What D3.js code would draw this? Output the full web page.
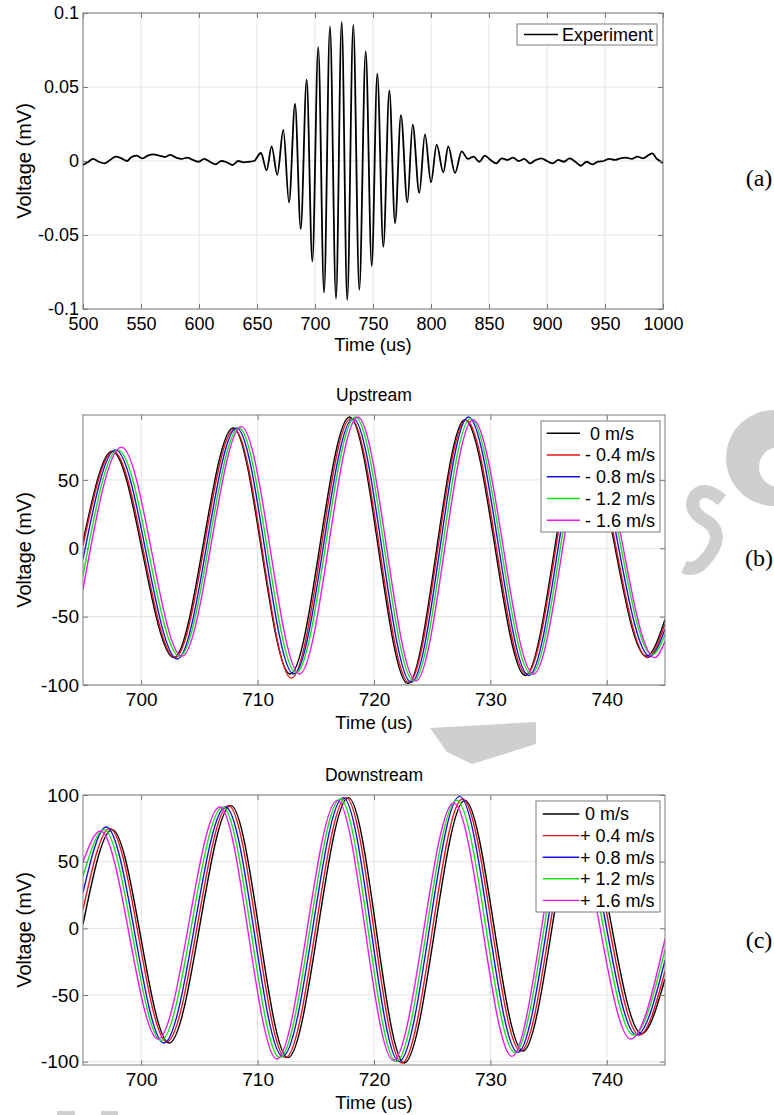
<!DOCTYPE html>
<html>
<head>
<meta charset="utf-8">
<script src="https://cdnjs.cloudflare.com/ajax/libs/d3/7.8.5/d3.min.js"></script>
<style>
  body { margin: 0; background: #fff; }
  svg text { font-family: "Liberation Sans", Arial, sans-serif; fill: #000; }
  svg text.tag { font-family: "Liberation Serif", "Times New Roman", serif; }
</style>
</head>
<body>
<div id="chart"></div>
<script>
// ---- (a) experiment trace (time in us, voltage in mV)
const expTime = [
  500, 503.9, 508.8, 513.6, 518.5, 523.4, 528.2, 533.1, 538, 541.2, 546.1, 551, 555.8, 560.7,
  565.6, 570.5, 575.3, 580.2, 585.1, 589.9, 594.8, 599.7, 604.5, 609.4, 614.3, 619.2, 624,
  628.9, 633.8, 638.6, 643.5, 647.4,
  653.4, 658.3, 662.6, 667.5, 672.7, 677.6, 682.8, 687.7, 692.8, 697.7, 702.8, 707.8, 712.9,
  718.1, 723.0, 727.8, 733.0, 738.2, 743.7, 748.9, 753.7, 758.9, 764.1, 769.0, 774.1, 779.6,
  784.2, 789.9, 794.8, 800.0, 804.9, 810.6, 814.9, 820.7, 826.4,
  831.8, 836.7, 841.6, 846.4, 851.3, 856.2, 861, 865.9, 870.8, 875.6, 880.5, 885.4, 890.3,
  895.1, 900, 904.9, 909.7, 914.6, 919.5, 924.4, 929.2, 934.1, 939, 943.8, 948.7, 953.6,
  958.4, 963.3, 968.2, 973.1, 977.9, 982.8, 987.7, 990.9, 994.2, 997.4, 1000
];
const expVolt = [
  -0.0027, -0.0009, 0.0014, -0.0005, -0.0016, 0.0007, 0.0029, 0.0018, 0.0000, 0.0023, 0.0036,
  0.0018, 0.0036, 0.0045, 0.0036, 0.0027, 0.0041, 0.0023, 0.0014, 0.0023, 0.0007, -0.0005,
  0.0014, -0.0005, -0.0023, 0.0000, -0.0009, -0.0027, 0.0000, -0.0009, -0.0005, 0.0000,
  0.0054, -0.0063, 0.0099, -0.0093, 0.021, -0.028, 0.0385, -0.046, 0.055, -0.068, 0.077,
  -0.089, 0.091, -0.093, 0.094, -0.094, 0.092, -0.087, 0.074, -0.071, 0.059, -0.058, 0.0475,
  -0.042, 0.031, -0.028, 0.0245, -0.0216, 0.018, -0.0144, 0.011, -0.0077, 0.0099, -0.0081, 0.0065,
  0.0014, 0.0029, -0.0005, 0.0036, 0.0007, -0.0016, 0.0018, 0.0007, 0.0023, 0.0000, 0.0014,
  -0.0016, 0.0007, 0.0018, 0.0000, -0.0016, 0.0007, -0.0005, 0.0018, -0.0005, -0.0032,
  -0.0005, -0.0023, -0.0005, 0.0000, 0.0014, 0.0007, 0.0018, 0.0023, 0.0014, 0.0029, 0.0018,
  0.0041, 0.0052, 0.0018, 0.0000, -0.0016
];
const expXTicks = [500, 550, 600, 650, 700, 750, 800, 850, 900, 950, 1000];
const expYTicks = [-0.1, -0.05, 0, 0.05, 0.1];
const expYLabels = ["-0.1", "-0.05", "0", "0.05", "0.1"];

// ---- (b) upstream, one row per flow speed (peaks and troughs)
const upTime = [
  [695, 697.5, 702.8, 707.9, 712.8, 717.9, 722.9, 727.8, 733.0, 737.9, 743.4, 745],
  [695, 697.6, 702.9, 708.0, 712.9, 718.0, 723.0, 727.9, 733.1, 738.0, 743.5, 745],
  [695, 697.8, 703.1, 708.2, 713.1, 718.2, 723.2, 728.1, 733.3, 738.2, 743.7, 745],
  [695, 698.0, 703.3, 708.4, 713.3, 718.4, 723.4, 728.3, 733.5, 738.4, 743.9, 745],
  [695, 698.3, 703.5, 708.6, 713.6, 718.6, 723.6, 728.5, 733.7, 738.6, 744.1, 745]
];
const upVolt = [
  [5, 71, -80, 88, -92, 96, -99, 94, -93, 85, -79, -52],
  [2, 71, -80, 87, -95, 95, -98, 94, -92, 85, -80, -55],
  [-8, 72, -81, 88, -92, 95, -98, 96, -93, 86, -79, -59],
  [-20, 72, -79, 88, -91, 96, -97, 95, -92, 86, -78, -63],
  [-30, 74, -79, 89, -92, 96, -97, 94, -92, 86, -80, -68]
];
const upLabels = ["\u00a00 m/s", "- 0.4 m/s", "- 0.8 m/s", "- 1.2 m/s", "- 1.6 m/s"];

// ---- (c) downstream
const downTime = [
  [695, 697.5, 702.4, 707.7, 712.6, 717.8, 722.6, 727.8, 732.8, 737.7, 743.0, 745],
  [695, 697.3, 702.2, 707.5, 712.4, 717.6, 722.4, 727.6, 732.6, 737.5, 742.8, 745],
  [695, 697.0, 701.95, 707.25, 712.15, 717.35, 722.15, 727.35, 732.35, 737.25, 742.55, 745],
  [695, 696.8, 701.7, 707.0, 711.9, 717.1, 721.9, 727.1, 732.1, 737.0, 742.3, 745],
  [695, 696.5, 701.45, 706.75, 711.65, 716.85, 721.65, 726.85, 731.85, 736.75, 742.05, 745]
];
const downVolt = [
  [3, 74, -86, 92, -97, 98, -101, 96, -92, 88, -79, -38],
  [14, 75, -85, 92, -97, 98, -101, 97, -92, 88, -80, -32],
  [27, 76, -86, 91, -96, 98, -100, 99, -93, 88, -80, -24],
  [39, 74, -84, 91, -97, 97, -100, 96, -93, 87, -80, -16],
  [50, 73, -83, 91, -98, 96, -99, 94, -96, 86, -83, -8]
];
const downLabels = ["\u00a00 m/s", "+ 0.4 m/s", "+ 0.8 m/s", "+ 1.2 m/s", "+ 1.6 m/s"];

const zoomXTicks = [700, 710, 720, 730, 740];
const upYTicks = [-100, -50, 0, 50];
const downYTicks = [-100, -50, 0, 50, 100];

const seriesColors = ["#000000", "#e81414", "#1414e0", "#14e614", "#f514f5"];

const svg = d3.select("#chart").append("svg")
  .attr("width", 774)
  .attr("height", 1115);

//faint grey watermark letters sitting behind the figure
const mark = svg.append("g").attr("fill", "#cfcfcf");
mark.append("circle").attr("cx", 774).attr("cy", 458).attr("r", 48);
mark.append("circle").attr("cx", 779).attr("cy", 467).attr("r", 20).attr("fill", "#fff");
mark.append("path")
  .attr("fill", "none").attr("stroke", "#cfcfcf").attr("stroke-width", 13)
  .attr("d", "M722,500 Q702,484 694,498 Q688,512 708,522 Q726,536 705,560 Q695,572 684,567");
mark.append("path").attr("d", "M430,728 L536,722 L536,744 L472,764 L447,752 Z");
mark.append("rect").attr("x", 57).attr("y", 1111).attr("width", 18).attr("height", 4);
mark.append("rect").attr("x", 101).attr("y", 1111).attr("width", 17).attr("height", 4);

class Panel {

  constructor(opts) {
    //copy everything we were given
    Object.assign(this, opts);
    this.draw();
  }

  draw() {
    const b = this.box;
    const g = svg.append("g");
    const clipId = "clip-" + this.tag.replace(/\W/g, "");

    this.x = d3.scaleLinear().domain(this.xDomain).range([b.left, b.right]);
    this.y = d3.scaleLinear().domain(this.yDomain).range([b.bottom, b.top]);
    const x = this.x, y = this.y;

    g.append("clipPath").attr("id", clipId)
      .append("rect")
      .attr("x", b.left).attr("y", b.top)
      .attr("width", b.right - b.left).attr("height", b.bottom - b.top);

    //white plot area, then the light grid behind the data
    g.append("rect")
      .attr("x", b.left).attr("y", b.top)
      .attr("width", b.right - b.left).attr("height", b.bottom - b.top)
      .attr("fill", "#fff");
    const grid = g.append("g").attr("stroke", "#e4e4e4").attr("stroke-width", 1);
    grid.selectAll(".gx").data(this.xTicks).join("line")
      .attr("x1", d => x(d)).attr("x2", d => x(d))
      .attr("y1", b.top).attr("y2", b.bottom);
    grid.selectAll(".gy").data(this.yTicks).join("line")
      .attr("x1", b.left).attr("x2", b.right)
      .attr("y1", d => y(d)).attr("y2", d => y(d));

    //the traces
    const line = d3.line()
      .x(d => x(d[0]))
      .y(d => y(d[1]))
      .curve(d3.curveMonotoneX);

    g.append("g").attr("clip-path", "url(#" + clipId + ")")
      .selectAll("path").data(this.series).join("path")
      .attr("fill", "none")
      .attr("stroke", d => d.color)
      .attr("stroke-width", this.lineWidth)
      .attr("stroke-linejoin", "round")
      .attr("d", d => line(d.t.map((t, i) => [t, d.v[i]])));

    //axes: ticks point inwards on all four sides
    const yLabels = this.yLabels;
    const yTicks = this.yTicks;
    const fs = this.tickFont;
    const tidy = sel => sel.attr("font-size", fs).attr("font-family", null).attr("color", "#7a7a7a")
      .call(s => s.select(".domain").remove());

    g.append("g").attr("transform", "translate(0," + b.bottom + ")")
      .call(d3.axisBottom(x).tickValues(this.xTicks).tickSizeInner(-5).tickSizeOuter(0).tickPadding(8)
        .tickFormat(d3.format("d")))
      .call(tidy);
    g.append("g").attr("transform", "translate(" + b.left + ",0)")
      .call(d3.axisLeft(y).tickValues(yTicks).tickSizeInner(-5).tickSizeOuter(0).tickPadding(4)
        .tickFormat(d => yLabels[yTicks.indexOf(d)]))
      .call(tidy);
    g.append("g").attr("transform", "translate(0," + b.top + ")")
      .call(d3.axisTop(x).tickValues(this.xTicks).tickSizeInner(-5).tickSizeOuter(0).tickFormat(""))
      .call(tidy);
    g.append("g").attr("transform", "translate(" + b.right + ",0)")
      .call(d3.axisRight(y).tickValues(yTicks).tickSizeInner(-5).tickSizeOuter(0).tickFormat(""))
      .call(tidy);

    g.append("rect")
      .attr("x", b.left).attr("y", b.top)
      .attr("width", b.right - b.left).attr("height", b.bottom - b.top)
      .attr("fill", "none").attr("stroke", "#7a7a7a").attr("stroke-width", 1);

    //labels
    g.append("text")
      .attr("x", (b.left + b.right) / 2).attr("y", b.bottom + this.xLabelGap)
      .attr("text-anchor", "middle").attr("font-size", 18.5)
      .text("Time (us)");
    g.append("text")
      .attr("transform", "translate(31," + (b.top + b.bottom) / 2 + ") rotate(-90)")
      .attr("text-anchor", "middle").attr("font-size", 20)
      .text("Voltage (mV)");
    if (this.title) {
      g.append("text")
        .attr("x", (b.left + b.right) / 2).attr("y", b.top - 14)
        .attr("text-anchor", "middle").attr("font-size", 17.5)
        .text(this.title);
    }
    g.append("text").attr("class", "tag")
      .attr("x", 759).attr("y", this.tagY)
      .attr("text-anchor", "middle").attr("font-size", 24)
      .text(this.tag);

    //legend box
    const L = this.legend;
    const lg = g.append("g");
    lg.append("rect")
      .attr("x", L.x).attr("y", L.y).attr("width", L.w).attr("height", L.h)
      .attr("fill", "#fff").attr("stroke", "#7a7a7a").attr("stroke-width", 1);
    const rows = lg.selectAll("g").data(this.series).join("g")
      .attr("transform", (d, i) => "translate(0," + (L.y + L.first + i * L.step) + ")");
    rows.append("line")
      .attr("x1", L.lineFrom).attr("x2", L.lineTo)
      .attr("stroke", d => d.color).attr("stroke-width", 1.4);
    rows.append("text")
      .attr("x", L.textX).attr("dy", "0.35em")
      .attr("font-size", 18)
      .text(d => d.label);
  }
}

function makeSeries(times, volts, labels) {
  return times.map((t, i) => ({ t: t, v: volts[i], color: seriesColors[i], label: labels[i] }));
}

new Panel({
  tag: "(a)", tagY: 186,
  box: { left: 83, right: 663, top: 13, bottom: 309 },
  xDomain: [500, 1000], yDomain: [-0.1, 0.1],
  xTicks: expXTicks, yTicks: expYTicks, yLabels: expYLabels,
  tickFont: 18, xLabelGap: 42, lineWidth: 1.8,
  series: [{ t: expTime, v: expVolt, color: "#000000", label: "Experiment" }],
  legend: { x: 517, y: 24, w: 140, h: 21, first: 10.5, step: 0, lineFrom: 524, lineTo: 558, textX: 562 }
});

new Panel({
  tag: "(b)", tagY: 566, title: "Upstream",
  box: { left: 83, right: 665, top: 415, bottom: 685 },
  xDomain: [695, 745], yDomain: [-100, 97.5],
  xTicks: zoomXTicks, yTicks: upYTicks, yLabels: upYTicks.map(String),
  tickFont: 19, xLabelGap: 43.5, lineWidth: 1.4,
  series: makeSeries(upTime, upVolt, upLabels),
  legend: { x: 541, y: 421, w: 119, h: 111, first: 12.3, step: 21.75, lineFrom: 546.7, lineTo: 580, textX: 585 }
});

new Panel({
  tag: "(c)", tagY: 948, title: "Downstream",
  box: { left: 83, right: 665, top: 795, bottom: 1065 },
  xDomain: [695, 745], yDomain: [-102.5, 100],
  xTicks: zoomXTicks, yTicks: downYTicks, yLabels: downYTicks.map(String),
  tickFont: 19, xLabelGap: 43.5, lineWidth: 1.4,
  series: makeSeries(downTime, downVolt, downLabels),
  legend: { x: 536, y: 801, w: 124, h: 111, first: 13, step: 21.6, lineFrom: 542.7, lineTo: 579.3, textX: 580 }
});
</script>
</body>
</html>
